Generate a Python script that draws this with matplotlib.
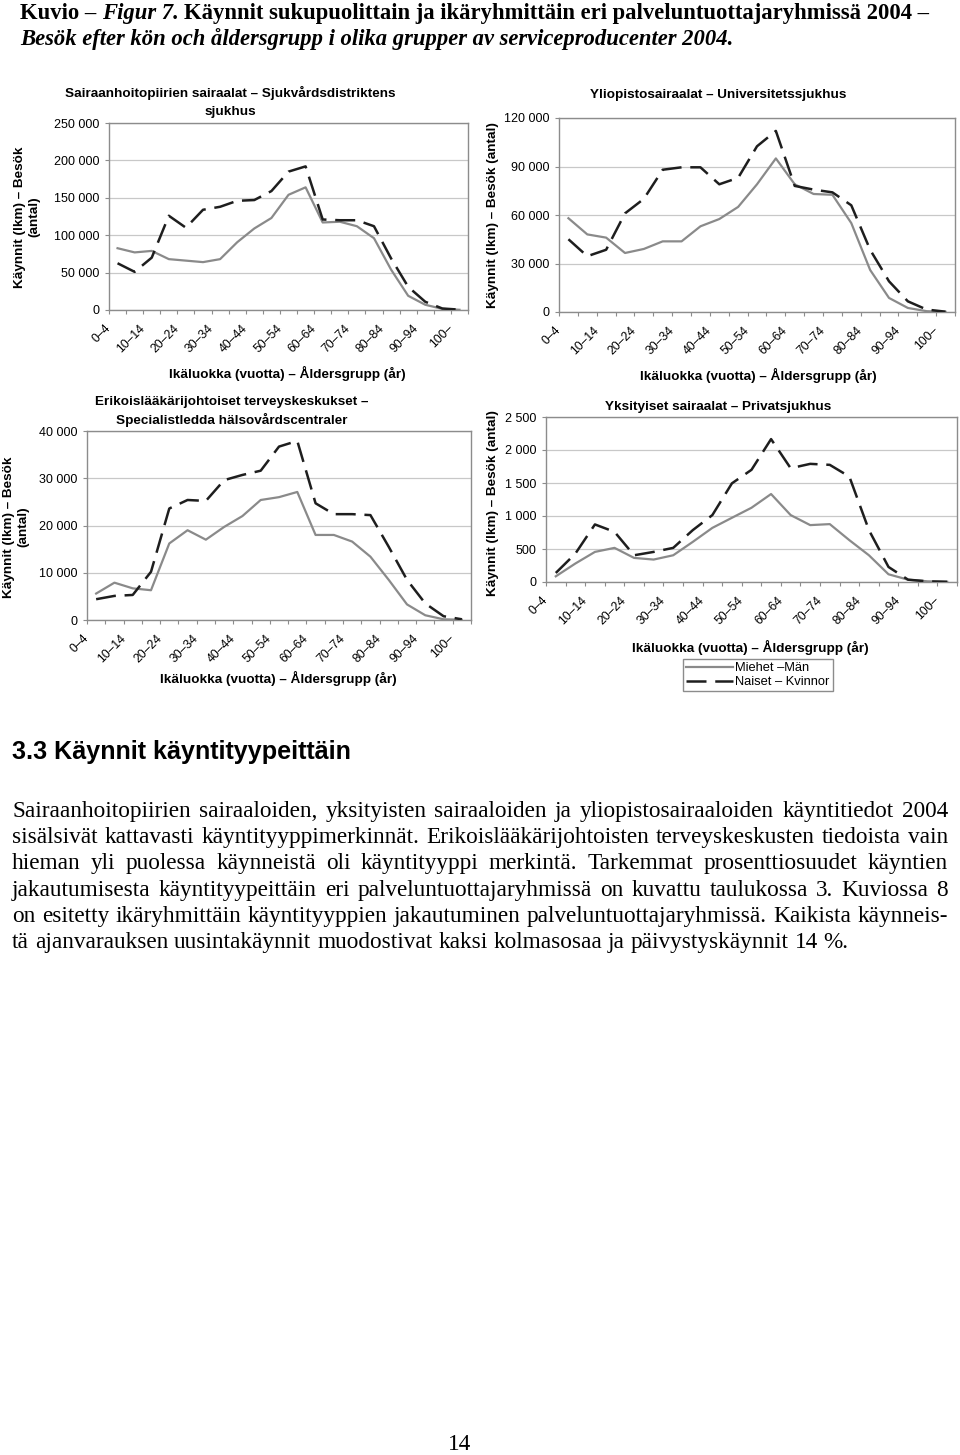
import numpy as np
import matplotlib
matplotlib.use('Agg')
import matplotlib.pyplot as plt
from matplotlib.ticker import FuncFormatter

W, H = 960, 1455

age_groups = ['0–4', '5–9', '10–14', '15–19', '20–24', '25–29', '30–34', '35–39',
              '40–44', '45–49', '50–54', '55–59', '60–64', '65–69', '70–74', '75–79',
              '80–84', '85–89', '90–94', '95–99', '100–']

# Sairaanhoitopiirien sairaalat
shp_men = [82600, 77000, 79000, 68000, 66000, 64000, 68000, 90600, 109000, 123000, 154000,
           164000, 117000, 118000, 112000, 96000, 54000, 19000, 7000, 1500, 300]
shp_women = [62500, 51000, 70000, 126000, 110000, 134000, 138000, 146000, 147000, 159000, 185000,
             192000, 121000, 120000, 120000, 112000, 69000, 31000, 11000, 2000, 500]

# Yliopistosairaalat
yo_men = [58000, 48000, 46000, 36500, 39000, 43700, 43700, 53000, 57500, 65000, 79000,
          95000, 79000, 73000, 72500, 55000, 26000, 8700, 2500, 500, 100]
yo_women = [45000, 34500, 38500, 61000, 70000, 88000, 89500, 89500, 79000, 83000, 102500,
            112000, 78000, 75700, 74000, 66000, 38500, 19000, 6600, 1500, 200]

# Erikoislääkärijohtoiset terveyskeskukset
etk_men = [5600, 7900, 6700, 6300, 16200, 19000, 17000, 19700, 22000, 25400, 26000,
           27100, 18000, 18000, 16600, 13400, 8500, 3300, 1000, 150, 50]
etk_women = [4400, 5100, 5300, 10200, 23600, 25400, 25200, 29600, 30700, 31600, 36700,
             37900, 24700, 22400, 22400, 22200, 15500, 8500, 3500, 800, 150]

# Yksityiset sairaalat
yks_men = [86, 280, 456, 517, 365, 340, 405, 608, 820, 973, 1125,
           1333, 1014, 862, 877, 634, 405, 117, 35, 10, 3]
yks_women = [137, 430, 872, 760, 405, 456, 517, 786, 1014, 1495, 1700,
             2165, 1724, 1790, 1775, 1597, 786, 228, 35, 10, 3]

men_label = 'Miehet –Män'
women_label = 'Naiset – Kvinnor'
xlabel = 'Ikäluokka (vuotta) – Åldersgrupp (år)'

paragraph = [
    'Sairaanhoitopiirien sairaaloiden, yksityisten sairaaloiden ja yliopistosairaaloiden käyntitiedot 2004',
    'sisälsivät kattavasti käyntityyppimerkinnät. Erikoislääkärijohtoisten terveyskeskusten tiedoista vain',
    'hieman yli puolessa käynneistä oli käyntityyppi merkintä. Tarkemmat prosenttiosuudet käyntien',
    'jakautumisesta käyntityypeittäin eri palveluntuottajaryhmissä on kuvattu taulukossa 3. Kuviossa 8',
    'on esitetty ikäryhmittäin käyntityyppien jakautuminen palveluntuottajaryhmissä. Kaikista käynneis-',
    'tä ajanvarauksen uusintakäynnit muodostivat kaksi kolmasosaa ja päivystyskäynnit 14 %.',
]

plt.rcParams['font.family'] = ['Liberation Sans', 'DejaVu Sans']

fig = plt.figure(figsize=(W / 100, H / 100), dpi=100)
renderer = fig.canvas.get_renderer()

MEN_C = '#8a8a8a'
WOMEN_C = '#1e1e1e'
GRID_C = '#c8c8c8'
FRAME_C = '#8c8c8c'


def fx(x):
    return x / W


def fy(y):
    return 1 - y / H


def make_axes(left, top, right, bottom):
    return fig.add_axes([fx(left), fy(bottom), (right - left) / W, (bottom - top) / H])


def thousands(v, pos):
    return f'{int(round(v)):,}'.replace(',', ' ')


def draw_chart(ax, men, women, ymax, ystep):
    x = np.arange(len(age_groups))
    ax.plot(x, men, color=MEN_C, lw=1.6, label=men_label, zorder=3)
    ax.plot(x, women, color=WOMEN_C, lw=1.8, dashes=(8, 3.5), label=women_label, zorder=4)
    ax.set_xlim(-0.5, len(age_groups) - 0.5)
    ax.set_ylim(0, ymax)
    ax.set_yticks(np.arange(0, ymax + 1, ystep))
    ax.yaxis.set_major_formatter(FuncFormatter(thousands))
    ax.grid(axis='y', color=GRID_C, lw=0.9)
    ax.set_axisbelow(True)
    bounds = np.arange(len(age_groups) + 1) - 0.5
    labels = [age_groups[k] if (k % 2 == 0 and k < len(age_groups)) else '' for k in range(len(bounds))]
    ax.set_xticks(bounds)
    ax.set_xticklabels(labels, rotation=45, ha='right', va='center', rotation_mode='anchor')
    ax.tick_params(axis='x', direction='out', length=3, width=0.8, color=FRAME_C, pad=9, labelsize=8.8)
    ax.tick_params(axis='y', direction='out', length=3, width=0.8, color=FRAME_C, pad=4, labelsize=9)
    for s in ax.spines.values():
        s.set_color(FRAME_C)
        s.set_linewidth(1.0)


def ftext(x, y, s, **kw):
    return fig.text(fx(x), fy(y), s, **kw)


def text_width(s, **kw):
    t = fig.text(0, 0, s, **kw)
    w = t.get_window_extent(renderer=renderer).width
    t.remove()
    return w


bold = dict(fontsize=9.7, fontweight='bold', ha='center', va='center')

# chart 1
ax1 = make_axes(109, 123, 468, 310)
draw_chart(ax1, shp_men, shp_women, 250000, 50000)
ftext(230, 93, 'Sairaanhoitopiirien sairaalat – Sjukvårdsdistriktens', **bold)
ftext(230, 112, 'sjukhus', **bold)
ftext(27, 217, 'Käynnit (lkm) – Besök\n(antal)', rotation=90, multialignment='center', **bold)
ftext(287, 373, xlabel, **bold)

# chart 2
ax2 = make_axes(559, 118, 955, 312)
draw_chart(ax2, yo_men, yo_women, 120000, 30000)
ftext(718, 95, 'Yliopistosairaalat – Universitetssjukhus', **bold)
ftext(493, 215, 'Käynnit (lkm) – Besök (antal)', rotation=90, **bold)
ftext(758, 375, xlabel, **bold)

# chart 3
ax3 = make_axes(87, 431, 471, 620)
draw_chart(ax3, etk_men, etk_women, 40000, 10000)
ftext(232, 402, 'Erikoislääkärijohtoiset terveyskeskukset –', **bold)
ftext(232, 420, 'Specialistledda hälsovårdscentraler', **bold)
ftext(16, 527, 'Käynnit (lkm) – Besök\n(antal)', rotation=90, multialignment='center', **bold)
ftext(278, 678, xlabel, **bold)

# chart 4
ax4 = make_axes(546, 417, 957, 582)
draw_chart(ax4, yks_men, yks_women, 2500, 500)
ftext(718, 407, 'Yksityiset sairaalat – Privatsjukhus', **bold)
ftext(493, 503, 'Käynnit (lkm) – Besök (antal)', rotation=90, **bold)
ftext(750, 647, xlabel, **bold)
ax4.legend(loc='upper left', bbox_to_anchor=(fx(683), fy(659)), bbox_transform=fig.transFigure,
           frameon=True, fancybox=False, edgecolor=FRAME_C, framealpha=1, fontsize=9.3,
           handlelength=3.6, handletextpad=0.2, borderpad=0.25, labelspacing=0.15, borderaxespad=0)


def place_pieces(x, y, pieces, **kw):
    space = text_width('x x', **kw) - text_width('xx', **kw)
    cur = x
    for s, style in pieces:
        if s == ' ':
            cur += space
            continue
        ftext(cur, y, s, fontstyle=style, ha='left', va='baseline', **kw)
        cur += text_width(s, fontstyle=style, **kw)
    return cur


serif = ['Liberation Serif', 'DejaVu Serif']

# title, sized so the first line spans the same width as in the page
title_line1 = [('Kuvio –', 'normal'), (' ', None), ('Figur 7.', 'italic'), (' ', None),
               ('Käynnit sukupuolittain ja ikäryhmittäin eri palveluntuottajaryhmissä 2004 –', 'normal')]
probe = sum(text_width(s, family=serif, fontsize=10, fontweight='bold', fontstyle=st)
            for s, st in title_line1 if s != ' ') + 2 * (text_width('x x', family=serif, fontsize=10, fontweight='bold')
                                                        - text_width('xx', family=serif, fontsize=10, fontweight='bold'))
title_fs = min(10 * 910 / probe, 17)
title_kw = dict(family=serif, fontsize=title_fs, fontweight='bold')
place_pieces(20, 19, title_line1, **title_kw)
place_pieces(20, 45, [('Besök efter kön och åldersgrupp i olika grupper av serviceproducenter 2004.', 'italic')],
             **title_kw)

# section heading
head = '3.3 Käynnit käyntityypeittäin'
head_fs = 10 * 340 / text_width(head, fontsize=10, fontweight='bold')
ftext(12, 759, head, fontsize=head_fs, fontweight='bold', ha='left', va='baseline')

# justified paragraph, font sized to the longest line
x_left, x_right = 12, 948
natural = max(text_width(l, family=serif, fontsize=10) for l in paragraph[:-1])
para_fs = 10 * (x_right - x_left - 4) / natural
para_kw = dict(family=serif, fontsize=para_fs)
for i, line in enumerate(paragraph):
    y = 817 + 26.2 * i
    words = line.split(' ')
    widths = [text_width(w_, **para_kw) for w_ in words]
    if i < len(paragraph) - 1:
        gap = (x_right - x_left - sum(widths)) / (len(words) - 1)
    else:
        gap = text_width('x x', **para_kw) - text_width('xx', **para_kw)
    cur = x_left
    for w_, wd in zip(words, widths):
        ftext(cur, y, w_, ha='left', va='baseline', **para_kw)
        cur += wd + gap

ftext(460, 1450, '14', family=serif, fontsize=para_fs, ha='center', va='baseline')

fig.savefig('out.png', dpi=100)
